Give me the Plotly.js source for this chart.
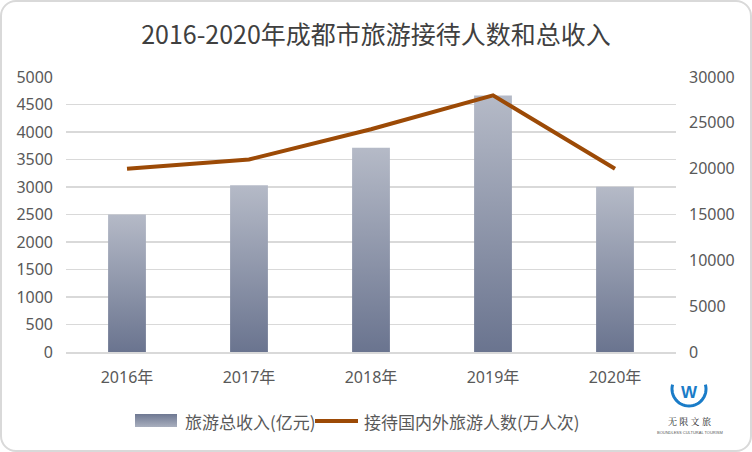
<!DOCTYPE html>
<html><head><meta charset="utf-8">
<script src="https://cdn.plot.ly/plotly-3.0.1.min.js"></script>
<style>
html,body{margin:0;padding:0;background:#fff;}
#wrap{position:relative;width:752px;height:452px;}
#chart{width:752px;height:452px;}
#frame{position:absolute;left:0;top:0;width:752px;height:452px;box-sizing:border-box;border:2px solid #d9d9d9;border-radius:16px;pointer-events:none;}
</style></head>
<body>
<div id="wrap"><div id="chart"></div><div id="frame"></div></div>
<script>
const years = ['2016年','2017年','2018年','2019年','2020年'];
const revenue = [2502, 3033, 3712, 4663, 3005];       // 旅游总收入(亿元)
const visitors = [20000, 21000, 24300, 28000, 20000]; // 接待国内外旅游人数(万人次)
const leftTicks = [0,500,1000,1500,2000,2500,3000,3500,4000,4500,5000];
const rightTicks = [0,5000,10000,15000,20000,25000,30000];
const seriesNames = ['旅游总收入(亿元)','接待国内外旅游人数(万人次)'];

const M = {l:66, r:76, t:77, b:100};
const PW = 752 - M.l - M.r, PH = 452 - M.t - M.b;
const px = x => (x - M.l) / PW;          // pixel -> paper x
const py = y => (452 - M.b - y) / PH;    // pixel -> paper y

const numFont = '"Noto Sans", "Noto Sans CJK SC", sans-serif';
const cjk = '"Noto Sans CJK SC", "Noto Sans", sans-serif';
const tickFont = {family:numFont, size:16, color:'#595959'};
const barColor = '#8e96aa', lineColor = '#9c4a06';

// logo bowl-shaped arc (decoration)
let arc = '';
const N = 30, a0 = -15, a1 = 195, cx = 689, cy = 389, r = 17;
for (let i = 0; i <= N; i++) {
  const a = (a0 + i * (a1 - a0) / N) * Math.PI / 180;
  const X = cx + r * Math.cos(a), Y = cy + r * Math.sin(a);
  arc += (i ? 'L' : 'M') + px(X).toFixed(4) + ',' + py(Y).toFixed(4);
}

const data = [
  {type:'bar', x:years, y:revenue, name:seriesNames[0], yaxis:'y',
   marker:{color:barColor}, hoverinfo:'none', showlegend:false},
  {type:'scatter', mode:'lines', x:years, y:visitors, name:seriesNames[1], yaxis:'y2',
   line:{color:lineColor, width:4}, hoverinfo:'none', showlegend:false}
];
const layout = {
  width:752, height:452,
  margin:M,
  paper_bgcolor:'rgba(0,0,0,0)', plot_bgcolor:'rgba(0,0,0,0)',
  title:{text:'2016-2020年成都市旅游接待人数和总收入', font:{family:cjk, size:25, color:'#404040'}, x:0.5, xanchor:'center', y:0.922, yanchor:'middle'},
  bargap:0.69,
  showlegend:false,
  xaxis:{type:'category', tickfont:{family:numFont, size:16, color:'#595959'}, showline:true, linecolor:'#d9d9d9', linewidth:1.5, ticks:'', showgrid:false, ticklabelstandoff:10},
  yaxis:{range:[0,5000], tickvals:leftTicks, ticktext:leftTicks.map(String), tickfont:tickFont, showgrid:true, gridcolor:'#d9d9d9', gridwidth:1.3, zeroline:false, ticks:'', ticklabelstandoff:12},
  yaxis2:{range:[0,30000], tickvals:rightTicks, ticktext:rightTicks.map(String), overlaying:'y', side:'right', tickfont:tickFont, showgrid:false, zeroline:false, ticks:'', ticklabelstandoff:12},
  annotations:[
    {xref:'paper', yref:'paper', x:px(183), y:py(421), text:seriesNames[0], showarrow:false, font:{family:cjk, size:17, color:'#595959'}, xanchor:'left', yanchor:'middle'},
    {xref:'paper', yref:'paper', x:px(362), y:py(421), text:seriesNames[1], showarrow:false, font:{family:cjk, size:17, color:'#595959'}, xanchor:'left', yanchor:'middle'},
    {xref:'paper', yref:'paper', x:px(689), y:py(422), text:'无 限 文 旅', showarrow:false, font:{family:'"Noto Serif CJK SC", "Noto Sans CJK SC", serif', size:9, color:'#222'}, xanchor:'center', yanchor:'middle'},
    {xref:'paper', yref:'paper', x:px(690), y:py(432), text:'BOUNDLESS CULTURAL TOURISM', showarrow:false, font:{family:'Liberation Sans', size:4, color:'#555'}, xanchor:'center', yanchor:'middle'},
    {xref:'paper', yref:'paper', x:px(689), y:py(392), text:'<b>W</b>', showarrow:false, font:{family:'Liberation Sans', size:17, color:'#1a7cc8'}, xanchor:'center', yanchor:'middle'}
  ],
  shapes:[
    {type:'rect', xref:'paper', yref:'paper', x0:px(135), x1:px(177), y0:py(427), y1:py(414), line:{width:0}, fillcolor:barColor},
    {type:'line', xref:'paper', yref:'paper', x0:px(315), x1:px(358), y0:py(421), y1:py(421), line:{color:lineColor, width:4}},
    {type:'path', xref:'paper', yref:'paper', path:arc, line:{color:'#1a7cc8', width:3}}
  ]
};
Plotly.newPlot('chart', data, layout, {displayModeBar:false, staticPlot:true}).then(function(gd){
  const svg = gd.querySelector('svg.main-svg');
  const ns = 'http://www.w3.org/2000/svg';
  let defs = svg.querySelector('defs');
  const g = document.createElementNS(ns,'linearGradient');
  g.setAttribute('id','barGrad'); g.setAttribute('x1','0'); g.setAttribute('y1','0'); g.setAttribute('x2','0'); g.setAttribute('y2','1');
  [['0%','#b5bac7'],['100%','#6a748f']].forEach(function(s){
    const st = document.createElementNS(ns,'stop'); st.setAttribute('offset',s[0]); st.setAttribute('stop-color',s[1]); g.appendChild(st);
  });
  defs.appendChild(g);
  const g2 = g.cloneNode(true); g2.setAttribute('id','legGrad');
  g2.querySelectorAll('stop')[0].setAttribute('stop-color','#6e7892');
  g2.querySelectorAll('stop')[1].setAttribute('stop-color','#a9afbe');
  defs.appendChild(g2);
  gd.querySelectorAll('.barlayer .point path').forEach(function(p){ p.style.fill='url(#barGrad)'; });
  gd.querySelectorAll('.shapelayer path').forEach(function(p){ if(p.getAttribute('data-index')==='0') p.style.fill='url(#legGrad)'; });
});
</script>
</body></html>
